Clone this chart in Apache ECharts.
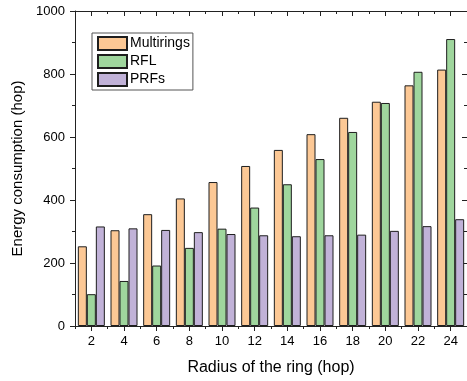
<!DOCTYPE html>
<html>
<head>
<meta charset="utf-8">
<script src="https://cdn.jsdelivr.net/npm/echarts@6/dist/echarts.min.js"></script>
<style>
html,body{margin:0;padding:0;background:#fff;}
#chart{width:467px;height:381px;}
</style>
</head>
<body>
<div id="chart"></div>
<script>
var categories = ['2','4','6','8','10','12','14','16','18','20','22','24'];
var multirings = [253, 304, 355, 405, 457, 508, 559, 609, 661, 712, 764, 814];
var rfl = [101, 143, 192, 248, 309, 376, 450, 530, 616, 708, 807, 911];
var prfs = [316, 310, 305, 298, 292, 288, 285, 288, 290, 302, 317, 339];
var yTicks = [0, 200, 400, 600, 800, 1000];

var FONT = "'Liberation Sans', Arial, sans-serif";
var AX = '#222';

var chart = echarts.init(document.getElementById('chart'), null, {renderer: 'canvas'});

function barSeries(name, data, color) {
  return {
    name: name,
    type: 'bar',
    xAxisIndex: 0,
    yAxisIndex: 0,
    data: data,
    barWidth: 9,
    barGap: '0%',
    itemStyle: {color: color, borderColor: '#1e1e1e', borderWidth: 1},
    emphasis: {disabled: true},
    animation: false
  };
}

var option = {
  animation: false,
  backgroundColor: '#fff',
  textStyle: {fontFamily: FONT},
  grid: {left: 75, right: -1, top: 11, bottom: 54, containLabel: false},
  legend: {
    orient: 'vertical',
    left: 92,
    top: 33,
    padding: [3, 3, 3, 5],
    itemGap: 3,
    itemWidth: 29,
    itemHeight: 13,
    icon: 'rect',
    borderColor: '#555',
    borderWidth: 1,
    backgroundColor: '#fff',
    textStyle: {fontFamily: FONT, fontSize: 14, color: '#000', padding: [0, 0, 0, -2]},
    data: ['Multirings', 'RFL', 'PRFs']
  },
  xAxis: [
    {
      type: 'category', position: 'bottom', data: categories,
      axisLine: {show: true, lineStyle: {color: AX, width: 1}},
      axisTick: {show: true, alignWithLabel: true, length: 5, inside: false, lineStyle: {color: AX}},
      axisLabel: {fontFamily: FONT, fontSize: 13, color: '#000', margin: 9},
      splitLine: {show: false},
      name: 'Radius of the ring (hop)', nameLocation: 'middle', nameGap: 34,
      nameTextStyle: {fontFamily: FONT, fontSize: 16, color: '#000'}
    },
    {
      type: 'category', position: 'bottom', data: categories,
      axisLine: {show: false},
      axisTick: {show: true, alignWithLabel: false, length: 3, inside: false, lineStyle: {color: AX}},
      axisLabel: {show: false}, splitLine: {show: false}
    },
    {
      type: 'category', position: 'top', data: categories,
      axisLine: {show: true, lineStyle: {color: AX, width: 1}},
      axisTick: {show: true, alignWithLabel: true, length: 5, inside: true, lineStyle: {color: AX}},
      axisLabel: {show: false}, splitLine: {show: false}
    },
    {
      type: 'category', position: 'top', data: categories,
      axisLine: {show: false},
      axisTick: {show: true, alignWithLabel: false, length: 3, inside: true, lineStyle: {color: AX}},
      axisLabel: {show: false}, splitLine: {show: false}
    }
  ],
  yAxis: [
    {
      type: 'value', position: 'left', min: yTicks[0], max: yTicks[yTicks.length - 1], interval: 200,
      axisLine: {show: true, lineStyle: {color: AX, width: 1}},
      axisTick: {show: true, length: 5, inside: false, lineStyle: {color: AX}},
      minorTick: {show: true, splitNumber: 2, length: 3, lineStyle: {color: AX}},
      axisLabel: {fontFamily: FONT, fontSize: 13, color: '#000', margin: 10,
        formatter: function (v) { return String(v); }},
      splitLine: {show: false},
      name: 'Energy consumption (hop)', nameLocation: 'middle', nameGap: 32,
      nameTextStyle: {fontFamily: FONT, fontSize: 15, color: '#000'}
    },
    {
      type: 'value', position: 'right', min: yTicks[0], max: yTicks[yTicks.length - 1], interval: 200,
      axisLine: {show: true, lineStyle: {color: AX, width: 1}},
      axisTick: {show: true, length: 5, inside: true, lineStyle: {color: AX}},
      minorTick: {show: true, splitNumber: 2, length: 3, lineStyle: {color: AX}},
      axisLabel: {show: false},
      splitLine: {show: false}
    }
  ],
  series: [
    barSeries('Multirings', multirings, '#FCC895'),
    barSeries('RFL', rfl, '#9FD69D'),
    barSeries('PRFs', prfs, '#C1B2D8')
  ]
};
chart.setOption(option);
</script>
</body>
</html>
